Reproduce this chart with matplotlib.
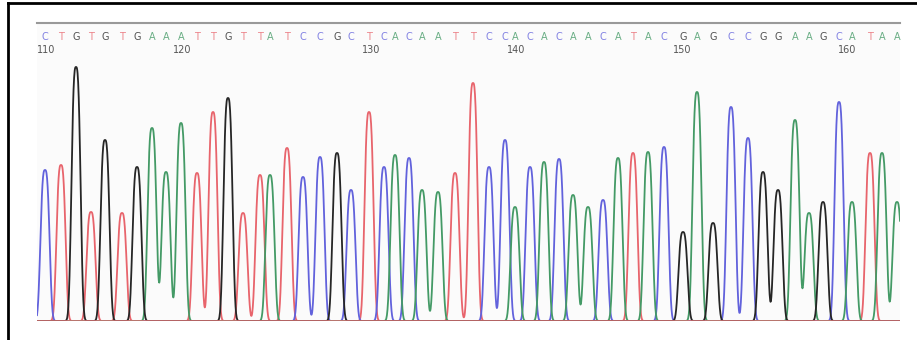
import numpy as np
import matplotlib.pyplot as plt

# Base calls (first base is 109)
bases = list("CTGTGTGAAATTGTTATCCGCTCACAATTCCACACAACATACGAGCCGGAAGCATAA")

# Peak positions (scan units) and heights, one per base
peak_pos = [45, 61, 76, 91, 105, 122, 137, 152, 166, 181,
            197, 213, 228, 243, 260, 270, 287, 303, 320, 337,
            351, 369, 384, 395, 409, 422, 438, 455, 473, 489,
            505, 515, 530, 544, 559, 573, 588, 603, 618, 633,
            648, 664, 683, 697, 713, 731, 748, 763, 778, 795,
            809, 823, 839, 852, 870, 882, 897]
peak_height = [151, 156, 254, 109, 181, 108, 154, 193, 149, 198,
               148, 209, 223, 108, 146, 146, 173, 144, 164, 168,
               131, 209, 154, 166, 163, 131, 129, 148, 238, 154,
               181, 114, 154, 159, 162, 126, 114, 121, 163, 168,
               169, 174, 89, 229, 98, 214, 183, 149, 131, 201,
               108, 119, 219, 119, 168, 168, 119]

# Position ruler
tick_labels = ["110", "120", "130", "140", "150", "160"]
tick_pos = [46, 182, 371, 516, 682, 847]

colors = {"A": "#449a66", "C": "#6262dc", "G": "#262626", "T": "#e8646c"}

fig = plt.figure(figsize=(9.17, 3.40), dpi=100)

# outer frame (top and left edges only)
fig.add_artist(plt.Line2D([8 / 917, 1], [1 - 3 / 340, 1 - 3 / 340], color="black", lw=2))
fig.add_artist(plt.Line2D([8 / 917, 8 / 917], [0, 1 - 3 / 340], color="black", lw=2))

ax = fig.add_axes([37 / 917, 19 / 340, 863 / 917, 298 / 340])
ax.set_xlim(37, 900)
ax.set_ylim(0, 298)
ax.set_facecolor("#fbfbfb")

# peak shape: flattened gaussian, about 10 scans wide at half height
x = np.linspace(37, 900, 3000)
width = 5.4
for base in "TCAG":
    y = np.zeros_like(x)
    for b, p, h in zip(bases, peak_pos, peak_height):
        if b == base:
            y += h * np.exp(-np.abs((x - p) / width) ** 3)
    ax.plot(x, y, color=colors[base], lw=1.3)

# base letters and ruler numbers
for b, p in zip(bases, peak_pos):
    ax.text(p, 284, b, color=colors[b], fontsize=7, ha="center", va="center",
            alpha=0.8)
for lab, p in zip(tick_labels, tick_pos):
    ax.text(p, 271, lab, color="#555555", fontsize=7, ha="center", va="center")

ax.axhline(0, color="#d07070", lw=1.2)
for s in ["left", "right", "bottom"]:
    ax.spines[s].set_visible(False)
ax.spines["top"].set_color("#999999")
ax.spines["top"].set_linewidth(1.5)
ax.set_xticks([])
ax.set_yticks([])

fig.savefig("out.png", dpi=100)
